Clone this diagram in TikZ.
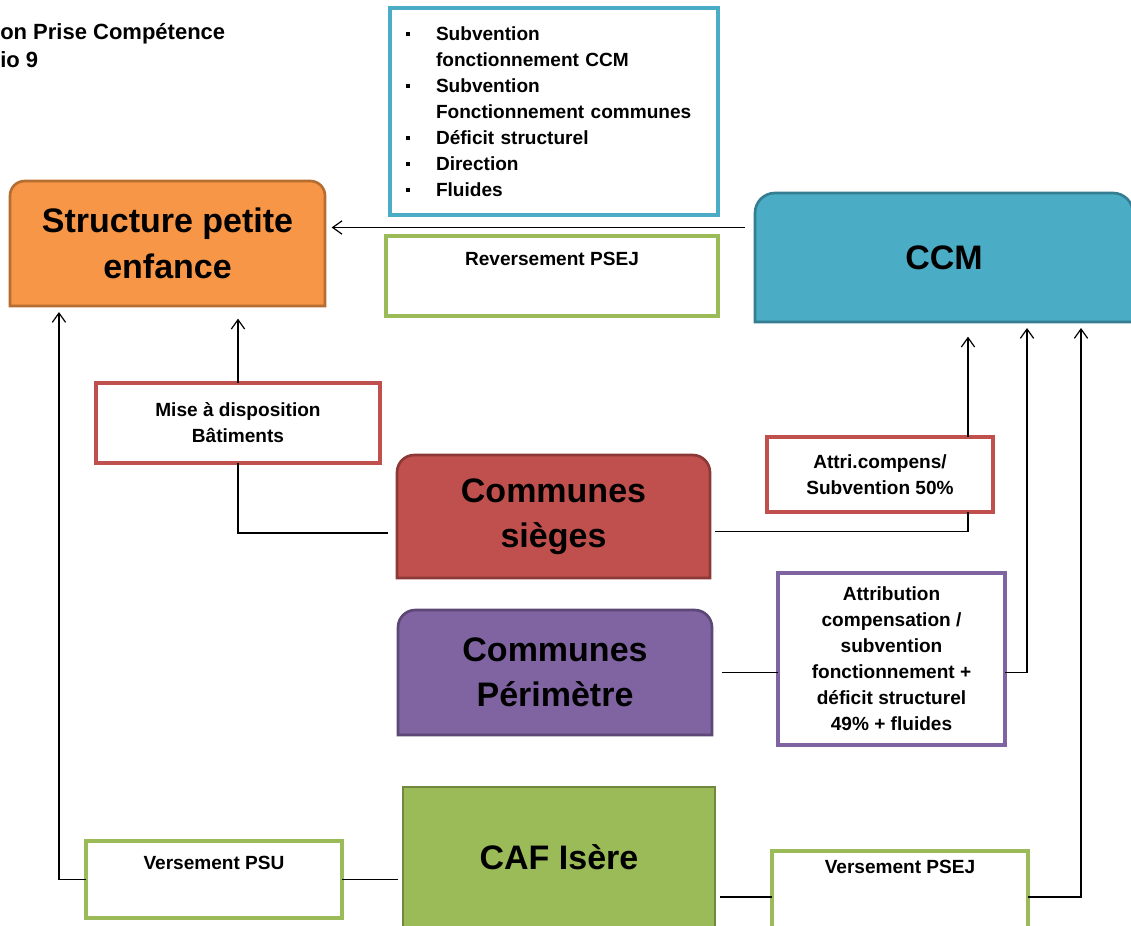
\documentclass[tikz,border=0pt]{standalone}
\usepackage{fontspec}
\setmainfont{Liberation Sans}
\usetikzlibrary{arrows.meta,backgrounds}

\definecolor{orangefill}{HTML}{F79646}
\definecolor{orangeline}{HTML}{B66D31}
\definecolor{bluefill}{HTML}{4BACC6}
\definecolor{blueline}{HTML}{357D91}
\definecolor{redfill}{HTML}{C0504D}
\definecolor{redline}{HTML}{8C3836}
\definecolor{violetfill}{HTML}{8064A2}
\definecolor{violetline}{HTML}{5C4776}
\definecolor{greenfill}{HTML}{9BBB59}
\definecolor{greenline}{HTML}{71893F}

\newcommand{\bigtext}{\fontsize{25.5}{34}\selectfont\bfseries}
\newcommand{\smalltext}{\fontsize{14.3}{19.5}\selectfont\bfseries}
\newcommand{\sqbullet}{\makebox[22.5pt][l]{\rule[3pt]{3pt}{3pt}}}
% shape with rounded top corners only
\newcommand{\topround}[3]{%
  \draw[#2] (#1.south west) -- ([yshift=-#3]#1.north west)
    arc[start angle=180, end angle=90, radius=#3]
    -- ([xshift=-#3]#1.north east)
    arc[start angle=90, end angle=0, radius=#3]
    -- (#1.south east) -- cycle;}

\begin{document}
\begin{tikzpicture}[x=0.75pt, y=-0.75pt, >={Straight Barb[length=7pt,width=10pt]}]
    % Define styles
    \tikzset{
        mainbox/.style={
            inner sep=0pt,
            outer sep=0pt,
            align=center,
            font=\bigtext
        },
        infobox/.style={
            draw=#1,
            line width=2.4pt,
            fill=white,
            inner sep=4pt,
            outer sep=0pt,
            align=center,
            font=\smalltext
        },
        conn/.style={
            line width=0.9pt
        },
        flow/.style={
            conn,
            ->
        }
    }

    \useasboundingbox (0,0) rectangle (1131,925);

    % Title
    \node[anchor=west, align=left, inner sep=0pt, font=\fontsize{16.5}{21}\selectfont\bfseries] (title) at (0,46) {on Prise Compétence\\io 9};

    % Main boxes and labelled boxes
    \node[mainbox, minimum width=236.25pt, minimum height=93.75pt] (struct) at (167.5,243.5) {Structure petite\\enfance};
    \node[infobox=bluefill, minimum width=246pt, minimum height=155.25pt, text width=222pt, align=left] (tasks) at (554,111.5) {%
        \sqbullet Subvention\\
        \hspace*{22.5pt}fonctionnement CCM\\
        \sqbullet Subvention\\
        \hspace*{22.5pt}Fonctionnement communes\\
        \sqbullet Déficit structurel\\
        \sqbullet Direction\\
        \sqbullet Fluides};
    \node[infobox=greenfill, minimum width=249pt, minimum height=60pt] (revpsej) at (552,276) {Reversement PSEJ\\ \strut};
    \node[mainbox, minimum width=283.5pt, minimum height=96.75pt] (ccm) at (944,257.5) {\raisebox{-3pt}{CCM}};
    \node[infobox=redfill, minimum width=213pt, minimum height=60pt] (batiments) at (238,423) {Mise à disposition\\Bâtiments};
    \node[mainbox, minimum width=234.75pt, minimum height=92.25pt] (sieges) at (553.5,516.5) {Communes\\sièges};
    \node[infobox=redfill, minimum width=169.5pt, minimum height=56.25pt] (attri) at (880,474.5) {Attri.compens/\\Subvention 50\%};
    \node[mainbox, minimum width=235.5pt, minimum height=93.75pt] (perim) at (555,672.5) {Communes\\Périmètre};
    \node[infobox=violetfill, minimum width=170.25pt, minimum height=129pt] (attrib) at (891.5,659) {Attribution\\compensation /\\subvention\\fonctionnement +\\déficit structurel\\49\% + fluides};
    \node[mainbox, minimum width=234pt, minimum height=105pt] (caf) at (559,857) {CAF Isère};
    \node[infobox=greenfill, minimum width=192pt, minimum height=57.75pt] (psu) at (214,879.5) {Versement PSU\\ \strut};
    \node[infobox=greenfill, minimum width=192pt, minimum height=69pt] (psej) at (900,897) {Versement PSEJ\\ \strut\\ \strut};

    % Filled shapes behind the main texts
    \begin{scope}[on background layer]
        \topround{struct}{fill=orangefill, draw=orangeline, line width=2pt}{11pt}
        \topround{ccm}{fill=bluefill, draw=blueline, line width=2pt}{15pt}
        \topround{sieges}{fill=redfill, draw=redline, line width=2pt}{13pt}
        \topround{perim}{fill=violetfill, draw=violetline, line width=2pt}{13pt}
        \draw[fill=greenfill, draw=greenline, line width=2pt] (caf.south west) rectangle (caf.north east);
    \end{scope}

    % Entry points
    \coordinate (ccmtop) at ([yshift=22.5pt]ccm.west);
    \coordinate (ccmA) at ([xshift=18pt]ccm.south);
    \coordinate (ccmB) at ([xshift=62.25pt]ccm.south);
    \coordinate (ccmC) at ([xshift=102.75pt]ccm.south);
    \coordinate (structA) at ([xshift=-81.4pt]struct.south);

    % Connectors
    \draw[flow, shorten <=7.5pt, shorten >=5pt] (ccmtop) -- (ccmtop -| struct.east);
    \draw[conn, shorten <=6.75pt] ([yshift=-12.4pt]sieges.west) -| (batiments.south);
    \draw[flow, shorten >=9.5pt] (batiments.north) -- (batiments.north |- struct.south);
    \draw[conn, shorten <=3.75pt] ([yshift=-11pt]sieges.east) -| (attri.south -| ccmA);
    \draw[flow, shorten >=11pt] (attri.north -| ccmA) -- (ccmA);
    \draw[conn, shorten <=7.5pt] (perim.east) -- (perim.east -| attrib.west);
    \draw[flow, shorten >=4.5pt] (perim.east -| attrib.east) -| (ccmB);
    \draw[conn, shorten >=3.75pt] (psu.east) -- (psu.east -| caf.west);
    \draw[flow, shorten >=4.5pt] (psu.west) -| (structA);
    \draw[conn, shorten <=3.75pt] (psej.west -| caf.east) -- (psej.west);
    \draw[flow, shorten >=4.5pt] (psej.east) -| (ccmC);

\end{tikzpicture}
\end{document}
